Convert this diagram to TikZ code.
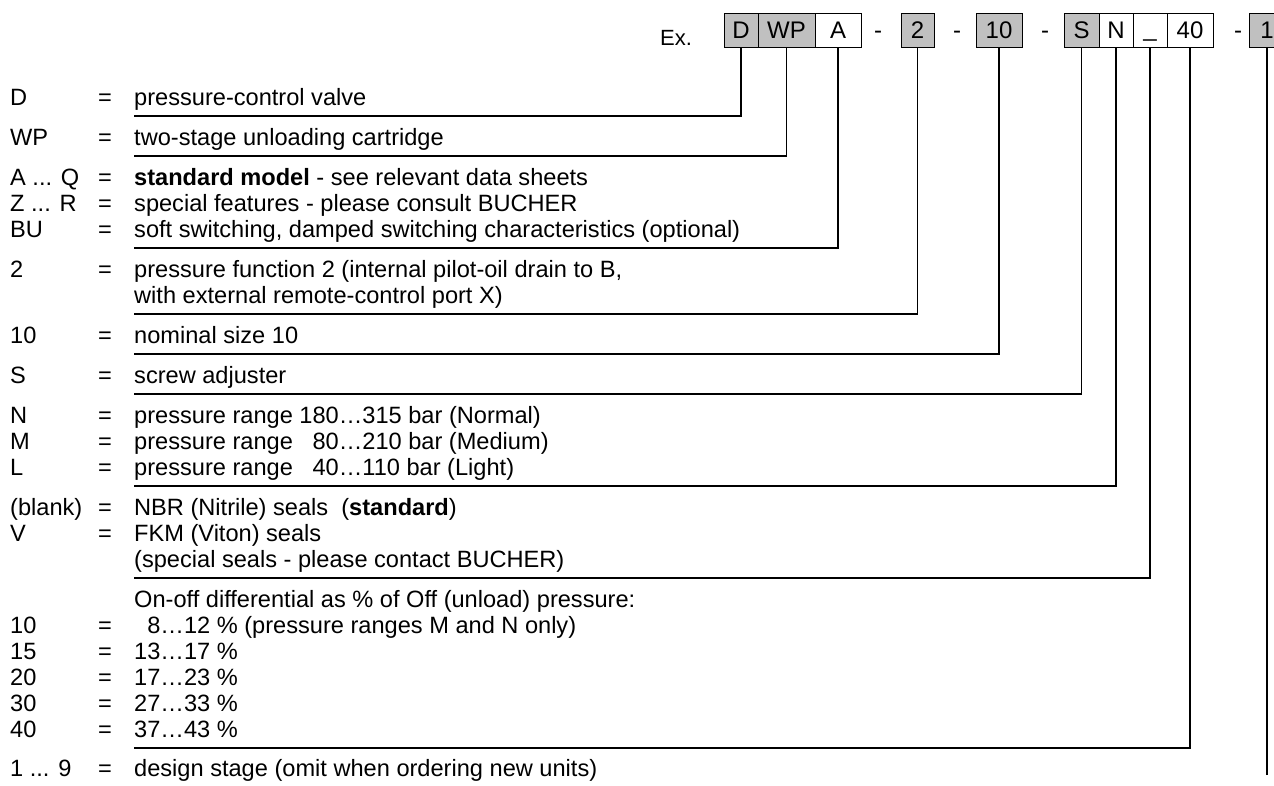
\documentclass[tikz,border=0pt]{standalone}
\usepackage{fontspec}
\setmainfont{Liberation Sans}
\definecolor{boxgrey}{RGB}{192,192,192}
\begin{document}
\begin{tikzpicture}[x=1pt,y=-1pt,
  body/.style={font=\fontsize{23.6pt}{26pt}\selectfont},
  lab/.style={body,anchor=base west,inner sep=0pt},
  eq/.style={body,anchor=base,inner sep=0pt},
  txt/.style={body,anchor=base west,inner sep=0pt},
  codebox/.style={draw,line width=1pt,minimum height=34pt,inner sep=0pt,
    text height=17.2pt,text depth=0pt,font=\fontsize{24pt}{26pt}\selectfont},
  grey/.style={fill=boxgrey},
  sep/.style={font=\fontsize{24pt}{26pt}\selectfont,inner sep=0pt,anchor=base},
  link/.style={line width=1.2pt}]
\useasboundingbox (0,0) rectangle (1274,785);
% header
\node[font=\fontsize{22pt}{24pt}\selectfont,anchor=base,inner sep=0pt] (ex) at (676,45) {Ex.};
\node[codebox,grey,minimum width=34pt] (bD) at (741,30) {D};
\node[codebox,grey,minimum width=57pt] (bWP) at (786.5,30) {WP};
\node[codebox,minimum width=46pt] (bA) at (838,30) {A};
\node[sep] (s1) at (878,38) {-};
\node[codebox,grey,minimum width=33pt] (b2) at (917.5,30) {2};
\node[sep] (s2) at (957,38) {-};
\node[codebox,grey,minimum width=46pt] (b10) at (999,30) {10};
\node[sep] (s3) at (1045,38) {-};
\node[codebox,grey,minimum width=35pt] (bS) at (1081.5,30) {S};
\node[codebox,minimum width=34pt] (bN) at (1116,30) {N};
\node[codebox,minimum width=34pt] (bU) at (1150,30) {\raisebox{2.5pt}{\_}};
\node[codebox,minimum width=46pt] (b40) at (1190,30) {40};
\node[sep] (s4) at (1238,38) {-};
\node[codebox,grey,minimum width=36pt] (b1) at (1267,30) {1};
% rows
\node[lab] (lD) at (10,105) {D}; \node[eq] (eD) at (105,105) {=}; \node[txt] (tD) at (134,105) {pressure-control valve};
\node[lab] (lWP) at (10,145) {WP}; \node[eq] (eWP) at (105,145) {=}; \node[txt] (tWP) at (134,145) {two-stage unloading cartridge};
\node[lab] (lAQ) at (10,185) {A ... Q}; \node[eq] (eAQ) at (105,185) {=}; \node[txt] (tAQ) at (134,185) {\textbf{standard model} - see relevant data sheets};
\node[lab] (lZR) at (10,211) {Z ... R}; \node[eq] (eZR) at (105,211) {=}; \node[txt] (tZR) at (134,211) {special features - please consult BUCHER};
\node[lab] (lBU) at (10,237) {BU}; \node[eq] (eBU) at (105,237) {=}; \node[txt] (tBU) at (134,237) {soft switching, damped switching characteristics (optional)};
\node[lab] (l2) at (10,277) {2}; \node[eq] (e2) at (105,277) {=}; \node[txt] (t2) at (134,277) {pressure function 2 (internal pilot-oil drain to B,};
\node[txt] (t2b) at (134,303) {with external remote-control port X)};
\node[lab] (l10) at (10,343) {10}; \node[eq] (e10) at (105,343) {=}; \node[txt] (t10) at (134,343) {nominal size 10};
\node[lab] (lS) at (10,383) {S}; \node[eq] (eS) at (105,383) {=}; \node[txt] (tS) at (134,383) {screw adjuster};
\node[lab] (lN) at (10,423) {N}; \node[eq] (eN) at (105,423) {=}; \node[txt] (tN) at (134,423) {pressure range 180…315 bar (Normal)};
\node[lab] (lM) at (10,449) {M}; \node[eq] (eM) at (105,449) {=}; \node[txt] (tM) at (134,449) {pressure range\ \ \ 80…210 bar (Medium)};
\node[lab] (lL) at (10,475) {L}; \node[eq] (eL) at (105,475) {=}; \node[txt] (tL) at (134,475) {pressure range\ \ \ 40…110 bar (Light)};
\node[lab] (lbl) at (10,515) {(blank)}; \node[eq] (ebl) at (105,515) {=}; \node[txt] (tbl) at (134,515) {NBR (Nitrile) seals\ \ (\textbf{standard})};
\node[lab] (lV) at (10,541) {V}; \node[eq] (eV) at (105,541) {=}; \node[txt] (tV) at (134,541) {FKM (Viton) seals};
\node[txt] (tVb) at (134,567) {(special seals - please contact BUCHER)};
\node[txt] (tOn) at (134,607) {On-off differential as \% of Off (unload) pressure:};
\node[lab] (lr10) at (10,633) {10}; \node[eq] (er10) at (105,633) {=}; \node[txt] (tr10) at (134,633) {\ \ 8…12 \% (pressure ranges M and N only)};
\node[lab] (lr15) at (10,659) {15}; \node[eq] (er15) at (105,659) {=}; \node[txt] (tr15) at (134,659) {13…17 \%};
\node[lab] (lr20) at (10,685) {20}; \node[eq] (er20) at (105,685) {=}; \node[txt] (tr20) at (134,685) {17…23 \%};
\node[lab] (lr30) at (10,711) {30}; \node[eq] (er30) at (105,711) {=}; \node[txt] (tr30) at (134,711) {27…33 \%};
\node[lab] (lr40) at (10,737) {40}; \node[eq] (er40) at (105,737) {=}; \node[txt] (tr40) at (134,737) {37…43 \%};
\node[lab] (l19) at (10,776) {1 ... 9}; \node[eq] (e19) at (105,776) {=}; \node[txt] (t19) at (134,776) {design stage (omit when ordering new units)};
% connectors
\coordinate (cD) at (134,116);
\coordinate (cWP) at (134,156);
\coordinate (cA) at (134,248);
\coordinate (c2) at (134,314);
\coordinate (c10) at (134,354);
\coordinate (cS) at (134,394);
\coordinate (cN) at (134,486);
\coordinate (cU) at (134,578);
\coordinate (c40) at (134,748);
\coordinate (c1) at (1267,775);
\draw[link] (cD) -| (bD.south);
\draw[link] (cWP) -| (bWP.south);
\draw[link] (cA) -| (bA.south);
\draw[link] (c2) -| (b2.south);
\draw[link] (c10) -| (b10.south);
\draw[link] (cS) -| (bS.south);
\draw[link] (cN) -| (bN.south);
\draw[link] (cU) -| (bU.south);
\draw[link] (c40) -| (b40.south);
\draw[link] (c1) -- (b1.south);
\end{tikzpicture}
\end{document}
